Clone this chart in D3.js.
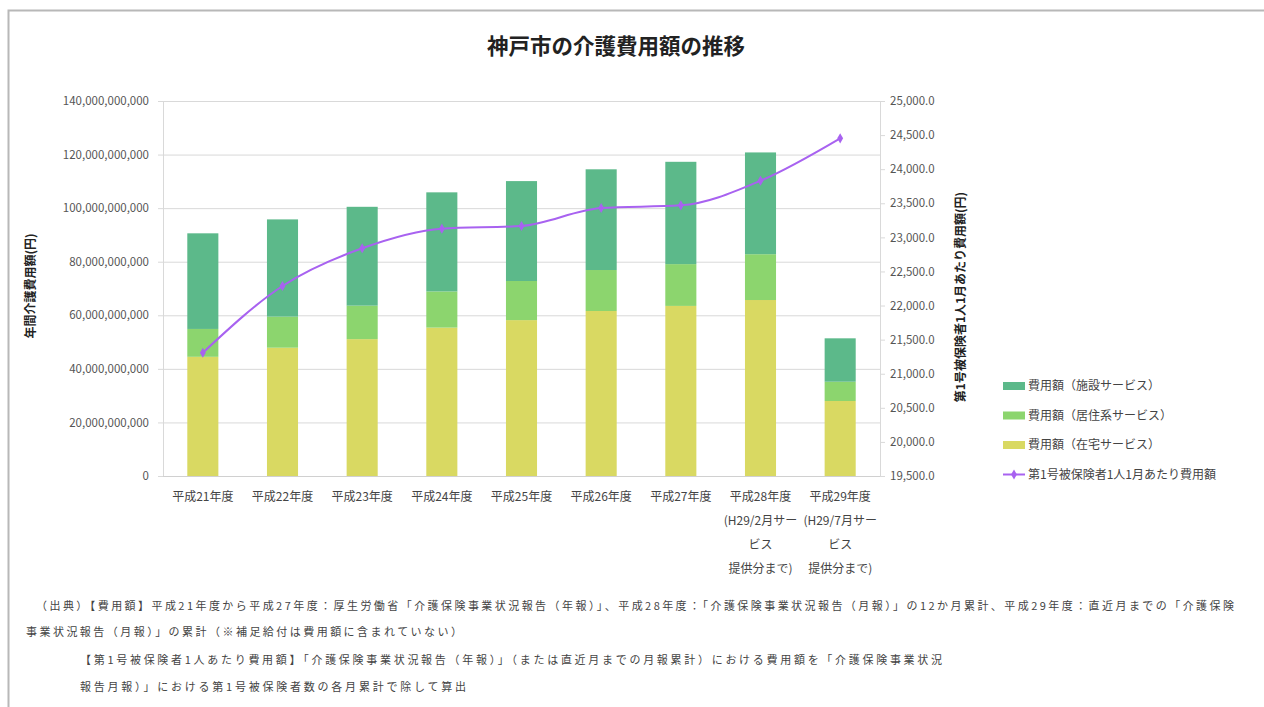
<!DOCTYPE html>
<html><head><meta charset="utf-8">
<script src="https://cdn.jsdelivr.net/npm/d3@7/dist/d3.min.js"></script>
<style>
html,body{margin:0;padding:0;background:#fff;}
svg text{font-family:"Noto Sans CJK JP","Noto Sans",sans-serif;}
</style></head>
<body>
<svg id="chart" width="1264" height="707"></svg>
<script>
// ---- data ----
const categories = ["平成21年度","平成22年度","平成23年度","平成24年度","平成25年度","平成26年度","平成27年度","平成28年度","平成29年度"];
const categoryLines = [
  ["平成21年度"],["平成22年度"],["平成23年度"],["平成24年度"],["平成25年度"],["平成26年度"],["平成27年度"],
  ["平成28年度","(H29/2月サー","ビス","提供分まで)"],
  ["平成29年度","(H29/7月サー","ビス","提供分まで)"]
];
const homeService = [44.5e9, 47.9e9, 51.1e9, 55.4e9, 58.2e9, 61.6e9, 63.5e9, 65.7e9, 28.0e9];
const residentialService = [10.4e9, 11.6e9, 12.5e9, 13.5e9, 14.6e9, 15.3e9, 15.6e9, 17.1e9, 7.2e9];
const facilityService = [35.7e9, 36.3e9, 36.9e9, 37.0e9, 37.3e9, 37.6e9, 38.2e9, 38.0e9, 16.2e9];
const perCapita = [21308, 22287, 22840, 23127, 23167, 23431, 23470, 23831, 24453];
const leftTicks = [0, 20e9, 40e9, 60e9, 80e9, 100e9, 120e9, 140e9];
const rightTicks = [19500,20000,20500,21000,21500,22000,22500,23000,23500,24000,24500,25000];
const seriesNames = ["費用額（施設サービス）","費用額（居住系サービス）","費用額（在宅サービス）","第1号被保険者1人1月あたり費用額"];
const title = "神戸市の介護費用額の推移";
const leftTitle = "年間介護費用額(円)";
const rightTitle = "第1号被保険者1人1月あたり費用額(円)";
const notes = [
  "（出典）【費用額】平成21年度から平成27年度：厚生労働省「介護保険事業状況報告（年報）」、平成28年度：「介護保険事業状況報告（月報）」の12か月累計、平成29年度：直近月までの「介護保険",
  "事業状況報告（月報）」の累計（※補足給付は費用額に含まれていない）",
  "【第1号被保険者1人あたり費用額】「介護保険事業状況報告（年報）」（または直近月までの月報累計）における費用額を「介護保険事業状況",
  "報告月報）」における第1号被保険者数の各月累計で除して算出"
];

const colors = {facility:"#5cb98a", residential:"#8cd56e", home:"#d9d962", line:"#a862f0"};

const svg = d3.select("#chart");

// frame
svg.append("path").attr("d","M8.5,707 V10.5 H1264").attr("fill","none").attr("stroke","#b8b8b8").attr("stroke-width",2);

const plot = {left:163, right:880, top:101, bottom:476};

const x = d3.scaleBand().domain(categories).range([plot.left, plot.right]).paddingInner(0.61).paddingOuter(0.305);
const yL = d3.scaleLinear().domain([0,140e9]).range([plot.bottom, plot.top]);
const yR = d3.scaleLinear().domain([19500,25000]).range([plot.bottom, plot.top]);

// gridlines
svg.append("g").selectAll("line").data(leftTicks).join("line")
  .attr("x1",plot.left-5).attr("x2",plot.right)
  .attr("y1",d=>yL(d)+0.5).attr("y2",d=>yL(d)+0.5)
  .attr("stroke","#d9d9d9").attr("stroke-width",1);

// left axis
const fmt = d3.format(",");
const gL = svg.append("g").attr("transform",`translate(${plot.left},0)`)
  .call(d3.axisLeft(yL).tickValues(leftTicks).tickFormat(d=>fmt(d)).tickSize(0).tickPadding(14));
gL.select(".domain").attr("stroke","#d9d9d9");
gL.selectAll("text").attr("font-size",11.5).attr("fill","#555").style("font-family","'Noto Sans CJK JP',sans-serif");

// right axis
const gR = svg.append("g").attr("transform",`translate(${plot.right},0)`)
  .call(d3.axisRight(yR).tickValues(rightTicks).tickFormat(d3.format(",.1f")).tickSize(5).tickPadding(5));
gR.select(".domain").attr("stroke","#d9d9d9");
gR.selectAll("line").attr("stroke","#d9d9d9");
gR.selectAll("text").attr("font-size",11.5).attr("fill","#555").style("font-family","'Noto Sans CJK JP',sans-serif");

// stacked bars
const stackData = categories.map((c,i)=>({cat:c, home:homeService[i], residential:residentialService[i], facility:facilityService[i]}));
const stack = d3.stack().keys(["home","residential","facility"]);
const layers = stack(stackData);
svg.append("g").selectAll("g").data(layers).join("g")
  .attr("fill",d=>colors[d.key])
  .selectAll("rect").data(d=>d).join("rect")
  .attr("x",d=>x(d.data.cat)).attr("width",x.bandwidth())
  .attr("y",d=>yL(d[1])).attr("height",d=>yL(d[0])-yL(d[1]));

// bottom axis line
svg.append("line").attr("x1",plot.left).attr("x2",plot.right).attr("y1",plot.bottom+0.5).attr("y2",plot.bottom+0.5).attr("stroke","#d0d0d0");

// line
const cx = c => x(c)+x.bandwidth()/2;
svg.append("path").datum(perCapita)
  .attr("fill","none").attr("stroke",colors.line).attr("stroke-width",2)
  .attr("d", d3.line().x((d,i)=>cx(categories[i])).y(d=>yR(d)).curve(d3.curveMonotoneX));
const diamond = d3.symbol().type(d3.symbolDiamond).size(30);
svg.append("g").selectAll("path").data(perCapita).join("path")
  .attr("d",diamond).attr("fill",colors.line)
  .attr("transform",(d,i)=>`translate(${cx(categories[i])},${yR(d)})`);

// x labels
const xl = svg.append("g");
categories.forEach((c,i)=>{
  const t = xl.append("text").attr("x",cx(c)).attr("text-anchor","middle").attr("font-size",12).attr("fill","#444");
  categoryLines[i].forEach((s,j)=>{
    t.append("tspan").attr("x",cx(c)).attr("y",501+j*24).text(s);
  });
});

// title
svg.append("text").attr("x",616).attr("y",54).attr("text-anchor","middle")
  .attr("font-size",21.5).attr("font-weight","bold").attr("fill","#222").text(title);

// axis titles
svg.append("text").attr("transform","translate(35,286) rotate(-90)").attr("text-anchor","middle")
  .attr("font-size",12).attr("font-weight","bold").attr("fill","#222").text(leftTitle);
svg.append("text").attr("transform","translate(965,297) rotate(-90)").attr("text-anchor","middle")
  .attr("font-size",12).attr("font-weight","bold").attr("fill","#222").text(rightTitle);

// legend
const legendKeys = ["facility","residential","home","line"];
const lg = svg.append("g");
legendKeys.forEach((k,i)=>{
  const yy = 386 + i*29.5;
  if(k==="line"){
    lg.append("line").attr("x1",1003).attr("x2",1025).attr("y1",yy).attr("y2",yy).attr("stroke",colors.line).attr("stroke-width",2);
    lg.append("path").attr("d",diamond).attr("fill",colors.line).attr("transform",`translate(1014,${yy})`);
  } else {
    lg.append("rect").attr("x",1003).attr("y",yy-4).attr("width",22).attr("height",8).attr("fill",colors[k]);
  }
  lg.append("text").attr("x",1028).attr("y",yy).attr("dy","0.35em").attr("font-size",12).attr("fill","#444").text(seriesNames[i]);
});

// notes
const notePos = [[36,606,1198],[26,632,436],[80,660,862],[80,687,386]];
notes.forEach((n,i)=>{
  svg.append("text").attr("x",notePos[i][0]).attr("y",notePos[i][1]).attr("dy","0.35em")
    .attr("font-size",11).attr("fill","#444")
    .attr("textLength",notePos[i][2]).attr("lengthAdjust","spacing").text(n);
});
</script>
</body></html>
